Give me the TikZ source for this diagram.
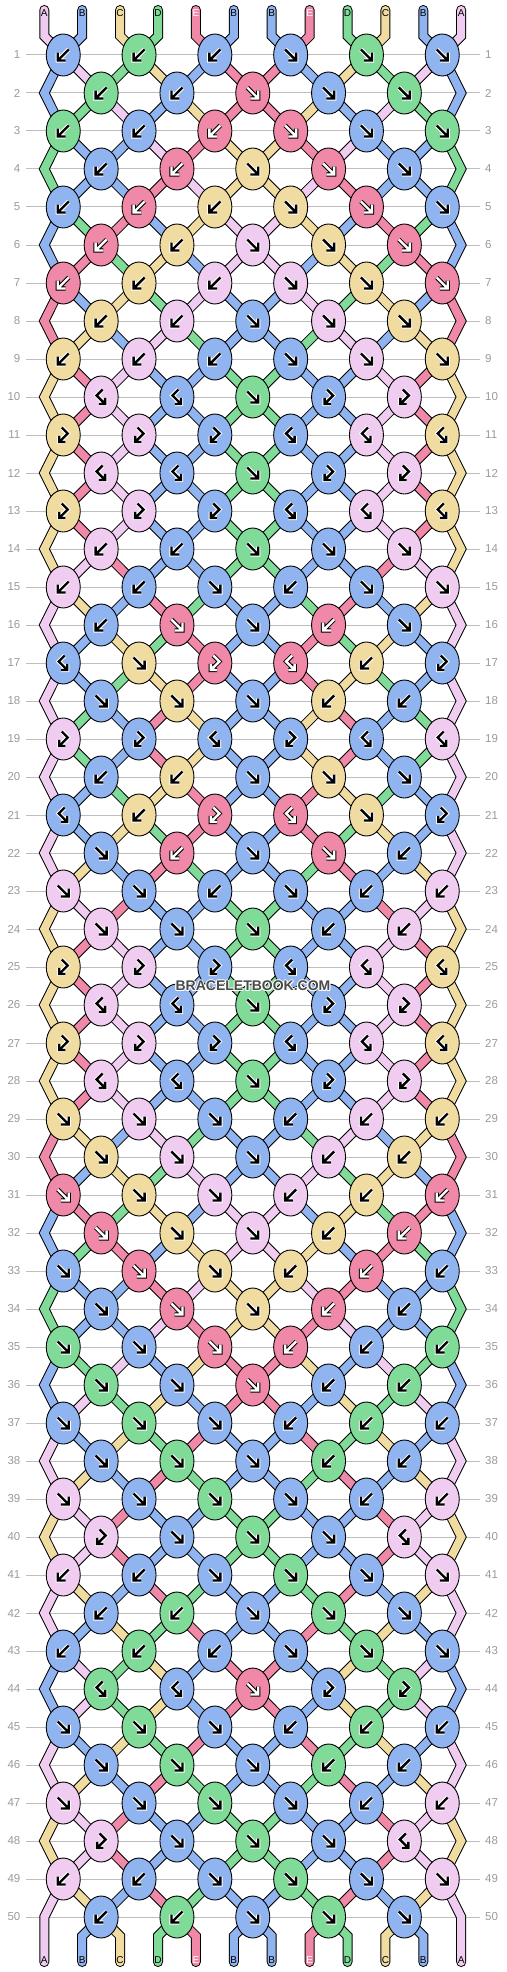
\documentclass[tikz,border=0pt]{standalone}
\usepackage{fontspec}
\setmainfont{Liberation Sans}
\usetikzlibrary{shapes.geometric}
\definecolor{cA}{HTML}{F0CCF0}
\definecolor{cB}{HTML}{8FB4F0}
\definecolor{cC}{HTML}{F0DBA0}
\definecolor{cD}{HTML}{80DB98}
\definecolor{cE}{HTML}{F088A8}
\definecolor{gridgray}{HTML}{BDBDBD}
\definecolor{numgray}{HTML}{9A9A9A}
\definecolor{wmgray}{HTML}{4A4A4A}
\newcommand\bbS[2]{\expandafter\def\csname S#1\endcsname{#2}}
\newcommand\bbK[2]{\expandafter\def\csname K#1\endcsname{#2}}
% string states after each row
\bbS{0}{A,B,C,D,E,B,B,E,D,C,B,A}
\bbS{1}{B,A,D,C,B,E,E,B,C,D,A,B}
\bbS{2}{B,D,A,B,C,E,E,C,B,A,D,B}
\bbS{3}{D,B,B,A,E,C,C,E,A,B,B,D}
\bbS{4}{D,B,B,E,A,C,C,A,E,B,B,D}
\bbS{5}{B,D,E,B,C,A,A,C,B,E,D,B}
\bbS{6}{B,E,D,C,B,A,A,B,C,D,E,B}
\bbS{7}{E,B,C,D,A,B,B,A,D,C,B,E}
\bbS{8}{E,C,B,A,D,B,B,D,A,B,C,E}
\bbS{9}{C,E,A,B,B,D,D,B,B,A,E,C}
\bbS{10}{C,E,A,B,B,D,D,B,B,A,E,C}
\bbS{11}{C,E,A,B,B,D,D,B,B,A,E,C}
\bbS{12}{C,E,A,B,B,D,D,B,B,A,E,C}
\bbS{13}{C,E,A,B,B,D,D,B,B,A,E,C}
\bbS{14}{C,A,E,B,B,D,D,B,B,E,A,C}
\bbS{15}{A,C,B,E,D,B,B,D,E,B,C,A}
\bbS{16}{A,B,C,D,E,B,B,E,D,C,B,A}
\bbS{17}{A,B,D,C,E,B,B,E,C,D,B,A}
\bbS{18}{A,D,B,E,C,B,B,C,E,B,D,A}
\bbS{19}{A,D,B,E,C,B,B,C,E,B,D,A}
\bbS{20}{A,B,D,C,E,B,B,E,C,D,B,A}
\bbS{21}{A,B,C,D,E,B,B,E,D,C,B,A}
\bbS{22}{A,C,B,E,D,B,B,D,E,B,C,A}
\bbS{23}{C,A,E,B,B,D,D,B,B,E,A,C}
\bbS{24}{C,E,A,B,B,D,D,B,B,A,E,C}
\bbS{25}{C,E,A,B,B,D,D,B,B,A,E,C}
\bbS{26}{C,E,A,B,B,D,D,B,B,A,E,C}
\bbS{27}{C,E,A,B,B,D,D,B,B,A,E,C}
\bbS{28}{C,E,A,B,B,D,D,B,B,A,E,C}
\bbS{29}{E,C,B,A,D,B,B,D,A,B,C,E}
\bbS{30}{E,B,C,D,A,B,B,A,D,C,B,E}
\bbS{31}{B,E,D,C,B,A,A,B,C,D,E,B}
\bbS{32}{B,D,E,B,C,A,A,C,B,E,D,B}
\bbS{33}{D,B,B,E,A,C,C,A,E,B,B,D}
\bbS{34}{D,B,B,A,E,C,C,E,A,B,B,D}
\bbS{35}{B,D,A,B,C,E,E,C,B,A,D,B}
\bbS{36}{B,A,D,C,B,E,E,B,C,D,A,B}
\bbS{37}{A,B,C,D,E,B,B,E,D,C,B,A}
\bbS{38}{A,C,B,E,D,B,B,D,E,B,C,A}
\bbS{39}{C,A,E,B,B,D,D,B,B,E,A,C}
\bbS{40}{C,A,E,B,B,D,D,B,B,E,A,C}
\bbS{41}{A,C,B,E,D,B,B,D,E,B,C,A}
\bbS{42}{A,B,C,D,E,B,B,E,D,C,B,A}
\bbS{43}{B,A,D,C,B,E,E,B,C,D,A,B}
\bbS{44}{B,A,D,C,B,E,E,B,C,D,A,B}
\bbS{45}{A,B,C,D,E,B,B,E,D,C,B,A}
\bbS{46}{A,C,B,E,D,B,B,D,E,B,C,A}
\bbS{47}{C,A,E,B,B,D,D,B,B,E,A,C}
\bbS{48}{C,A,E,B,B,D,D,B,B,E,A,C}
\bbS{49}{A,C,B,E,D,B,B,D,E,B,C,A}
\bbS{50}{A,B,C,D,E,B,B,E,D,C,B,A}
% knots: type/colour
\bbK{1}{b/B,b/D,b/B,f/B,f/D,f/B}
\bbK{2}{b/D,b/B,f/E,f/B,f/D}
\bbK{3}{b/D,b/B,b/E,f/E,f/B,f/D}
\bbK{4}{b/B,b/E,f/C,f/E,f/B}
\bbK{5}{b/B,b/E,b/C,f/C,f/E,f/B}
\bbK{6}{b/E,b/C,f/A,f/C,f/E}
\bbK{7}{b/E,b/C,b/A,f/A,f/C,f/E}
\bbK{8}{b/C,b/A,f/B,f/A,f/C}
\bbK{9}{b/C,b/A,b/B,f/B,f/A,f/C}
\bbK{10}{bf/A,bf/B,f/D,fb/B,fb/A}
\bbK{11}{fb/C,fb/A,fb/B,bf/B,bf/A,bf/C}
\bbK{12}{bf/A,bf/B,f/D,fb/B,fb/A}
\bbK{13}{fb/C,fb/A,fb/B,bf/B,bf/A,bf/C}
\bbK{14}{b/A,b/B,f/D,f/B,f/A}
\bbK{15}{b/A,b/B,f/B,b/B,f/B,f/A}
\bbK{16}{b/B,f/E,f/B,b/E,f/B}
\bbK{17}{bf/B,f/C,fb/E,bf/E,b/C,fb/B}
\bbK{18}{f/B,f/C,f/B,b/C,b/B}
\bbK{19}{fb/A,fb/B,bf/B,fb/B,bf/B,bf/A}
\bbK{20}{b/B,b/C,f/B,f/C,f/B}
\bbK{21}{bf/B,b/C,fb/E,bf/E,f/C,fb/B}
\bbK{22}{f/B,b/E,f/B,f/E,b/B}
\bbK{23}{f/A,f/B,b/B,f/B,b/B,b/A}
\bbK{24}{f/A,f/B,f/D,b/B,b/A}
\bbK{25}{fb/C,fb/A,fb/B,bf/B,bf/A,bf/C}
\bbK{26}{bf/A,bf/B,f/D,fb/B,fb/A}
\bbK{27}{fb/C,fb/A,fb/B,bf/B,bf/A,bf/C}
\bbK{28}{bf/A,bf/B,f/D,fb/B,fb/A}
\bbK{29}{f/C,f/A,f/B,b/B,b/A,b/C}
\bbK{30}{f/C,f/A,f/B,b/A,b/C}
\bbK{31}{f/E,f/C,f/A,b/A,b/C,b/E}
\bbK{32}{f/E,f/C,f/A,b/C,b/E}
\bbK{33}{f/B,f/E,f/C,b/C,b/E,b/B}
\bbK{34}{f/B,f/E,f/C,b/E,b/B}
\bbK{35}{f/D,f/B,f/E,b/E,b/B,b/D}
\bbK{36}{f/D,f/B,f/E,b/B,b/D}
\bbK{37}{f/B,f/D,f/B,b/B,b/D,b/B}
\bbK{38}{f/B,f/D,f/B,b/D,b/B}
\bbK{39}{f/A,f/B,f/D,f/B,b/B,b/A}
\bbK{40}{fb/A,f/B,f/D,f/B,bf/A}
\bbK{41}{b/A,b/B,f/B,f/D,f/B,f/A}
\bbK{42}{b/B,b/D,f/B,f/D,f/B}
\bbK{43}{b/B,b/D,b/B,f/B,f/D,f/B}
\bbK{44}{bf/D,bf/B,f/E,fb/B,fb/D}
\bbK{45}{f/B,f/D,f/B,b/B,b/D,b/B}
\bbK{46}{f/B,f/D,f/B,b/D,b/B}
\bbK{47}{f/A,f/B,f/D,f/B,b/B,b/A}
\bbK{48}{fb/A,f/B,f/D,f/B,bf/A}
\bbK{49}{b/A,b/B,f/B,f/D,f/B,f/A}
\bbK{50}{b/B,b/D,f/B,f/D,f/B}
\def\xo{44.3}\def\xs{37.9}
\newcommand\calcP[2]{%
 \pgfmathsetmacro\Py{55+38*(#1-1)}%
 \ifodd#1\relax
   \ifodd#2\relax\pgfmathsetmacro\Px{\xo+\xs*(#2-0.5)}\else\pgfmathsetmacro\Px{\xo+\xs*(#2-1.5)}\fi
 \else
   \ifnum#2=1\relax\pgfmathsetmacro\Px{\xo}%
   \else\ifnum#2=12\relax\pgfmathsetmacro\Px{\xo+11*\xs}%
   \else\ifodd#2\relax\pgfmathsetmacro\Px{\xo+\xs*(#2-1.5)}\else\pgfmathsetmacro\Px{\xo+\xs*(#2-0.5)}\fi
   \fi\fi
 \fi}
\tikzset{
 strb/.style={line width=10pt,draw=black,line cap=round,line join=miter},
 strf/.style={line width=8pt,line cap=round,line join=miter},
 knot/.style={ellipse,draw=black,line width=0.9pt,minimum width=34pt,minimum height=42pt,inner sep=0pt},
 gline/.style={line join=miter,line cap=butt},
 gridline/.style={draw=gridgray,line width=1pt},
 rowlab/.style={inner sep=0pt,text=numgray,font=\fontsize{11.5}{12}\selectfont},
 strlab/.style={inner sep=0pt,font=\fontsize{10}{10}\selectfont}
}
\newcommand\gpb[2]{\draw[gline,line width=#1,draw=#2] (5.5,-5.5) -- (-4.6,4.6) (-5.5,-2.3) -- (-5.5,5.5) -- (2.3,5.5);}
\newcommand\gpf[2]{\draw[gline,line width=#1,draw=#2] (-5.5,-5.5) -- (4.6,4.6) (5.5,-2.3) -- (5.5,5.5) -- (-2.3,5.5);}
\newcommand\gpbf[2]{\draw[gline,line width=#1,draw=#2] (1.5,-7.5) -- (-4.5,-1.5) -- (3.2,6.2) (4,0.8) -- (4,7) -- (-2.2,7);}
\newcommand\gpfb[2]{\draw[gline,line width=#1,draw=#2] (-1.5,-7.5) -- (4.5,-1.5) -- (-3.2,6.2) (-4,0.8) -- (-4,7) -- (2.2,7);}
\def\segmode{0}
\newcommand\drawseg[2]{\ifnum\segmode=0 \draw[strb] #2;\else\draw[strf,draw=#1] #2;\fi}
\newcommand\stringpass{%
\foreach \r in {0,...,50}{
  \edef\slist{\csname S\r\endcsname}
  \pgfmathtruncatemacro\rn{\r+1}
  \pgfmathtruncatemacro\rnn{\r+2}
  \foreach \c [count=\p] in \slist {
    \ifnum\r=0
      \drawseg{c\c}{(T-\p) -- (U-\p) -- (P-1-\p)}%
    \else
      \ifnum\p=1 \def\isedge{1}\else\ifnum\p=12 \def\isedge{1}\else\def\isedge{0}\fi\fi
      \ifnum\isedge=1
        \ifodd\r\relax
          \ifnum\r=49 \drawseg{c\c}{(P-49-\p) -- (P-50-\p) -- (W-\p)}%
          \else \drawseg{c\c}{(P-\r-\p) -- (P-\rn-\p) -- (P-\rnn-\p)}\fi
        \fi
      \else
        \ifnum\r=50 \drawseg{c\c}{(P-50-\p) -- (V-\p) -- (W-\p)}%
        \else \drawseg{c\c}{(P-\r-\p) -- (P-\rn-\p)}\fi
      \fi
    \fi
  }
}}
\begin{document}
\begin{tikzpicture}[x=1pt,y=-1pt]
\useasboundingbox (0,0) rectangle (506,1972);
% position coordinates
\foreach \r in {1,...,50}{\foreach \p in {1,...,12}{\calcP{\r}{\p}\coordinate (P-\r-\p) at (\Px,\Py);}}
\foreach \p in {1,...,12}{
  \pgfmathsetmacro\xx{\xo+\xs*(\p-1)}
  \coordinate (T-\p) at (\xx,10);
  \coordinate (U-\p) at (\xx,36);
  \coordinate (V-\p) at (\xx,1936);
  \coordinate (W-\p) at (\xx,1962);
}
% row lines and numbers
\foreach \r in {1,...,50}{
  \pgfmathsetmacro\yy{55+38*(\r-1)}
  \coordinate (GL-\r) at (26,\yy);
  \coordinate (GR-\r) at (480,\yy);
  \draw[gridline] (GL-\r) -- (GR-\r);
  \node[rowlab,anchor=east] (L-\r) at (20.5,\yy) {\r};
  \node[rowlab,anchor=west] (R-\r) at (485,\yy) {\r};
}
% strings: borders, then fills
\def\segmode{0}\stringpass
\def\segmode{1}\stringpass
% string labels
\foreach \c [count=\p] in {A,B,C,D,E,B,B,E,D,C,B,A}{
  \pgfmathsetmacro\xx{\xo+\xs*(\p-1)}
  \if\c E\def\lc{white}\else\def\lc{black}\fi
  \node[strlab,text=\lc] (TL-\p) at (\xx,12.7) {\c};
  \node[strlab,text=\lc] (BL-\p) at (\xx,1960) {\c};
}
% knots
\foreach \r in {1,...,50}{
  \edef\klist{\csname K\r\endcsname}
  \foreach \kt/\kc [count=\k] in \klist {
    \ifodd\r\relax\pgfmathtruncatemacro\pl{2*\k-1}\else\pgfmathtruncatemacro\pl{2*\k}\fi
    \node[knot,fill=c\kc] (N-\r-\k) at (P-\r-\pl) {};
    \begin{scope}[shift={(N-\r-\k.center)}]
      \if\kc E%
        \csname gp\kt\endcsname{4.4pt}{black}\csname gp\kt\endcsname{2.4pt}{white}%
      \else
        \csname gp\kt\endcsname{4.4pt}{white}\csname gp\kt\endcsname{2.4pt}{black}%
      \fi
    \end{scope}
  }
}
% watermark
\foreach \dx/\dy [count=\i] in {1/0,-1/0,0/1,0/-1,0.8/0.8,-0.8/0.8,0.8/-0.8,-0.8/-0.8}{
  \node[font=\bfseries\fontsize{14}{14}\selectfont,text=white,inner sep=0pt] (wmh-\i) at (253+\dx,986+\dy) {BRACELETBOOK.COM};
}
\node[font=\bfseries\fontsize{14}{14}\selectfont,text=wmgray,inner sep=0pt] (wm) at (253,986) {BRACELETBOOK.COM};
\end{tikzpicture}
\end{document}
